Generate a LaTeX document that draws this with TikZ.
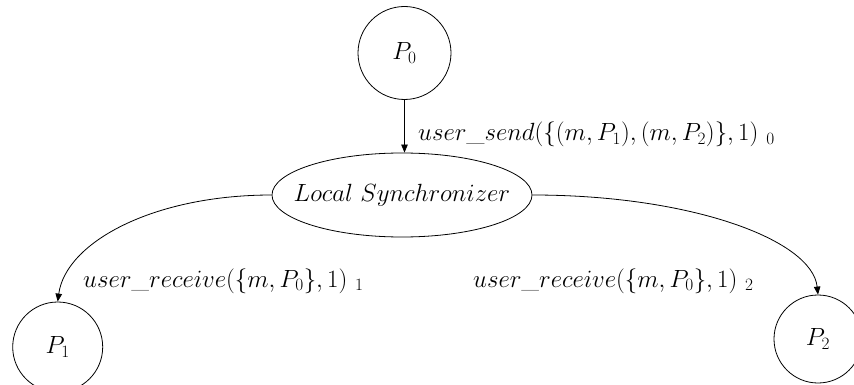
\documentclass[tikz,border=0pt]{standalone}
\usetikzlibrary{shapes.geometric,arrows.meta}
\begin{document}
\begin{tikzpicture}[x=1pt,y=-1pt,
  big/.style={font=\fontsize{25.5}{30}\selectfont},
  proc/.style={circle,draw,line width=0.8pt,inner sep=0pt,font=\fontsize{24}{28}\selectfont},
  lbl/.style={big,inner sep=0pt,anchor=base west},
  conn/.style={line width=0.8pt,-{Triangle[length=8pt,width=6.5pt]}}]
\useasboundingbox (0,0) rectangle (854,385);
\node[proc,minimum size=93pt] (P0) at (404.5,53) {$P_0$};
\node[draw,ellipse,line width=0.8pt,minimum width=260pt,minimum height=84pt,inner sep=0pt] (LS) at (402,195) {};
\node[inner sep=0pt,font=\fontsize{24.5}{29}\selectfont] (LStext) at (LS.center) {$Local\ Synchronizer$};
\node[proc,minimum size=90pt] (P1) at (57.7,347) {$P_1$};
\node[proc,minimum size=88pt] (P2) at (818,339) {$P_2$};
\node[lbl,font=\fontsize{26.3}{31}\selectfont] (sendlbl) at (418,141) {$user\_send(\{(m,P_1),(m,P_2)\},1)\ {}_0$};
\node[lbl] (rcvA) at (83,287) {$user\_receive(\{m,P_0\},1)\ {}_1$};
\node[lbl] (rcvB) at (473,287) {$user\_receive(\{m,P_0\},1)\ {}_2$};
\draw[conn] (P0.south) -- (P0.south |- LS.north);
\draw[conn] (LS.west) .. controls +(-119,0) and +(8,-59) .. (P1.north);
\draw[conn] (LS.east) .. controls +(158,0) and +(-6,-55) .. (P2.north);
\end{tikzpicture}
\end{document}
